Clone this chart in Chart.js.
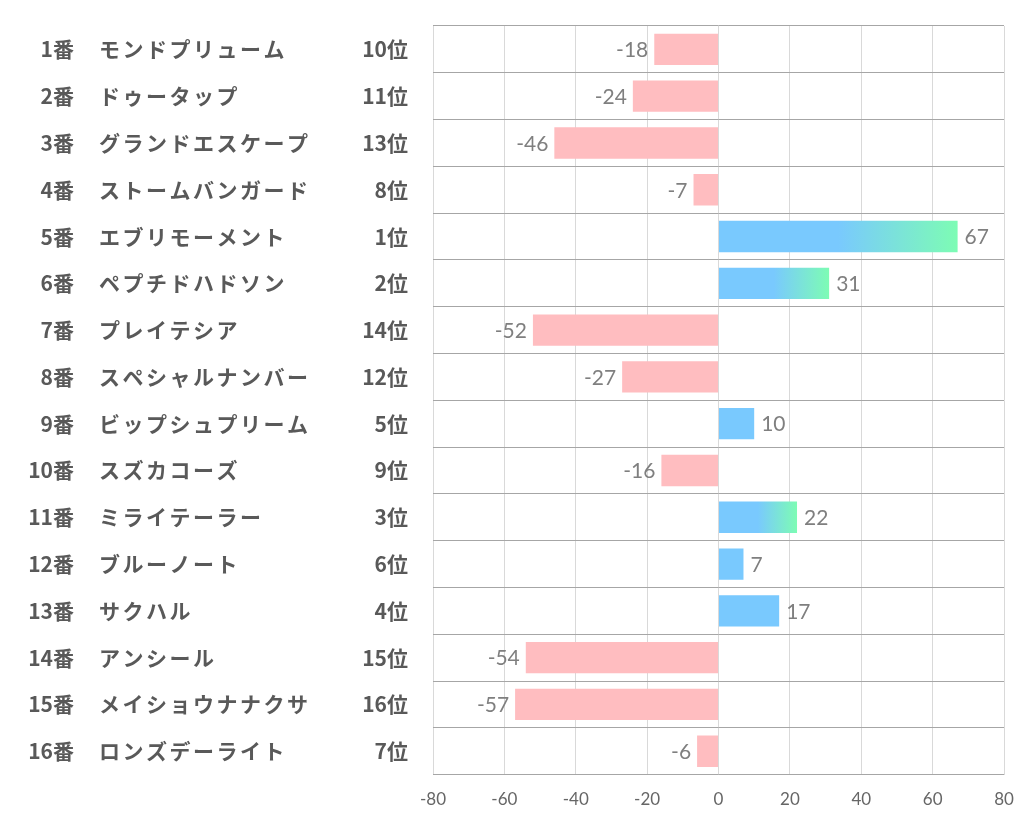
<!DOCTYPE html>
<html>
<head>
<meta charset="utf-8">
<script src="https://cdn.jsdelivr.net/npm/chart.js@4/dist/chart.umd.min.js"></script>
<style>
  html, body { margin: 0; padding: 0; background: #fff; }
  #wrap { width: 1022px; height: 834px; }
</style>
</head>
<body>
<div id="wrap"><canvas id="chart1" width="1022" height="834"></canvas></div>
<script>
  const umaban = ['1番', '2番', '3番', '4番', '5番', '6番', '7番', '8番', '9番', '10番', '11番', '12番', '13番', '14番', '15番', '16番'];
  const horseNames = ['モンドプリューム', 'ドゥータップ', 'グランドエスケープ', 'ストームバンガード', 'エブリモーメント', 'ペプチドハドソン', 'プレイテシア', 'スペシャルナンバー', 'ビップシュプリーム', 'スズカコーズ', 'ミライテーラー', 'ブルーノート', 'サクハル', 'アンシール', 'メイショウナナクサ', 'ロンズデーライト'];
  const ranks = ['10位', '11位', '13位', '8位', '1位', '2位', '14位', '12位', '5位', '9位', '3位', '6位', '4位', '15位', '16位', '7位'];
  const scores = [-18, -24, -46, -7, 67, 31, -52, -27, 10, -16, 22, 7, 17, -54, -57, -6];
  const xTicks = [-80, -60, -40, -20, 0, 20, 40, 60, 80];

  const pink = '#ffbdc0';
  const blue = '#79c9fe';
  const green = '#7dfcb4';

  const ctx = document.getElementById('chart1').getContext('2d');

  function barColor(c) {
    const i = c.dataIndex;
    const v = scores[i];
    if (v < 0) return pink;
    if (parseInt(ranks[i]) > 3) return blue;
    const chart = c.chart;
    if (!chart.chartArea) return blue;
    const x = chart.scales.x;
    const x0 = x.getPixelForValue(0);
    const x1 = x.getPixelForValue(v);
    const g = chart.ctx.createLinearGradient(x0, 0, x1, 0);
    g.addColorStop(0, blue);
    g.addColorStop(0.5, blue);
    g.addColorStop(1, green);
    return g;
  }

  // 左側の馬番・馬名・順位と、バー端の数値
  const labelPlugin = {
    id: 'labels',
    afterDatasetsDraw(chart) {
      const c = chart.ctx;
      const y = chart.scales.y;
      const x = chart.scales.x;
      c.save();
      c.textBaseline = 'middle';
      for (let i = 0; i < scores.length; i++) {
        const py = y.getPixelForValue(i);
        c.fillStyle = '#595959';
        c.font = 'bold 21px "Noto Sans CJK JP"';
        c.letterSpacing = '0px';
        c.textAlign = 'right';
        c.fillText(umaban[i], 74, py);
        c.fillText(ranks[i], 408, py);
        c.textAlign = 'left';
        c.letterSpacing = '2.5px';
        c.fillText(horseNames[i], 99, py);

        c.letterSpacing = '0px';
        c.font = '21px Lato, "Noto Sans"';
        c.fillStyle = '#7f7f7f';
        const px = x.getPixelForValue(scores[i]);
        if (scores[i] < 0) {
          c.textAlign = 'right';
          c.fillText(scores[i], px - 6, py + 1);
        } else {
          c.textAlign = 'left';
          c.fillText(scores[i], px + 7, py + 1);
        }
      }
      c.restore();
    }
  };

  new Chart(ctx, {
    type: 'bar',
    data: {
      labels: horseNames,
      datasets: [{
        data: scores,
        backgroundColor: barColor,
        borderWidth: 0,
        barPercentage: 0.67,
        categoryPercentage: 1
      }]
    },
    options: {
      indexAxis: 'y',
      responsive: false,
      animation: false,
      layout: { padding: { left: 433, top: 26, right: 18, bottom: 9 } },
      plugins: {
        legend: { display: false },
        tooltip: { enabled: false }
      },
      scales: {
        x: {
          min: -80,
          max: 80,
          afterBuildTicks(s) { s.ticks = xTicks.map(v => ({ value: v })); },
          afterFit(s) { s.paddingLeft = 0; s.paddingRight = 0; },
          grid: { color: '#d9d9d9', drawTicks: false },
          border: { display: false },
          ticks: {
            color: '#666',
            padding: 15,
            font: { family: 'Lato, "Noto Sans"', size: 17 }
          }
        },
        y: {
          grid: { color: '#a6a6a6', drawTicks: false, offset: true },
          border: { display: false },
          ticks: { display: false }
        }
      }
    },
    plugins: [labelPlugin]
  });
</script>
</body>
</html>
